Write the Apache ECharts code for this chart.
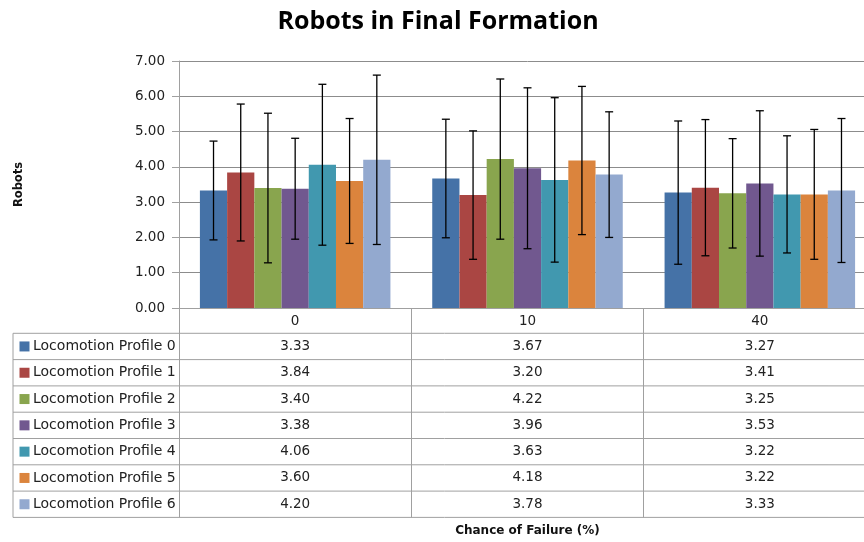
<!DOCTYPE html>
<html>
<head>
<meta charset="utf-8">
<script src="https://cdn.jsdelivr.net/npm/echarts@6/dist/echarts.min.js"></script>
<style>html,body{margin:0;padding:0;background:#fff;overflow:hidden}#c{width:876px;height:542px}</style>
</head>
<body>
<div id="c"></div>
<script>
var categories = ['0', '10', '40'];
var profiles = ['Locomotion Profile 0','Locomotion Profile 1','Locomotion Profile 2','Locomotion Profile 3','Locomotion Profile 4','Locomotion Profile 5','Locomotion Profile 6'];
var profile0 = [3.33, 3.67, 3.27];
var profile1 = [3.84, 3.20, 3.41];
var profile2 = [3.40, 4.22, 3.25];
var profile3 = [3.38, 3.96, 3.53];
var profile4 = [4.06, 3.63, 3.22];
var profile5 = [3.60, 4.18, 3.22];
var profile6 = [4.20, 3.78, 3.33];
var err0 = [1.40, 1.68, 2.03];
var err1 = [1.94, 1.82, 1.93];
var err2 = [2.12, 2.27, 1.55];
var err3 = [1.43, 2.28, 2.06];
var err4 = [2.28, 2.33, 1.66];
var err5 = [1.77, 2.10, 1.84];
var err6 = [2.40, 1.78, 2.04];
var yTicks = ['0.00','1.00','2.00','3.00','4.00','5.00','6.00','7.00'];

var values = [profile0, profile1, profile2, profile3, profile4, profile5, profile6];
var errors = [err0, err1, err2, err3, err4, err5, err6];
var colors = ['#4572A7','#AA4643','#89A54E','#71588F','#4198AF','#DB843D','#93A9CF'];

var W = 876;
var G = {left: 179, top: 61, right: 0, bottom: 234};
var catGap = 0.18;
var tableLeft = 13, headerBottom = 333.3, rowH = 26.3;
var lineColor = '#a0a0a0';
var fontMain = '"DejaVu Sans", Verdana, sans-serif';

var chart = echarts.init(document.getElementById('c'), null, {renderer: 'canvas'});

var series = values.map(function (v, i) {
  return {
    name: profiles[i], type: 'bar', data: v,
    barGap: '0%', barCategoryGap: (catGap * 100) + '%',
    itemStyle: {color: colors[i]},
    z: 2
  };
});

var errData = [];
values.forEach(function (v, i) {
  v.forEach(function (m, c) { errData.push([c, m, errors[i][c], i]); });
});
var nS = values.length;
series.push({
  type: 'custom',
  name: 'error',
  data: errData,
  encode: {x: 0, y: 1},
  z: 5,
  renderItem: function (params, api) {
    var c = api.value(0), m = api.value(1), e = api.value(2), i = api.value(3);
    var band = api.size([1, 0])[0];
    var bw = band * (1 - catGap) / nS;
    var cx = api.coord([c, m])[0] + (i - (nS - 1) / 2) * bw;
    var top = api.coord([c, m + e])[1];
    var bot = api.coord([c, m - e])[1];
    var cap = 4;
    var st = {stroke: '#000', lineWidth: 1.3};
    return {
      type: 'group',
      children: [
        {type: 'line', shape: {x1: cx, y1: top, x2: cx, y2: bot}, style: st},
        {type: 'line', shape: {x1: cx - cap, y1: top, x2: cx + cap, y2: top}, style: st},
        {type: 'line', shape: {x1: cx - cap, y1: bot, x2: cx + cap, y2: bot}, style: st}
      ]
    };
  }
});

// data table graphics
var graphics = [];
var right = W - G.right;
var catW = (right - G.left) / categories.length;
for (var k = 0; k <= profiles.length; k++) {
  var y = headerBottom + k * rowH;
  graphics.push({type: 'line', shape: {x1: tableLeft, y1: y, x2: right, y2: y}, style: {stroke: lineColor, lineWidth: 1}, silent: true});
}
graphics.push({type: 'line', shape: {x1: tableLeft, y1: headerBottom, x2: tableLeft, y2: headerBottom + profiles.length * rowH}, style: {stroke: lineColor, lineWidth: 1}});
profiles.forEach(function (p, i) {
  var yc = headerBottom + (i + 0.5) * rowH;
  graphics.push({type: 'rect', shape: {x: 19.5, y: yc - 5, width: 10, height: 10}, style: {fill: colors[i]}});
  graphics.push({type: 'text', x: 33, y: yc, style: {text: p, font: '14px ' + fontMain, fill: '#222', verticalAlign: 'middle', align: 'left'}});
  categories.forEach(function (c, j) {
    graphics.push({type: 'text', x: G.left + (j + 0.5) * catW, y: yc, style: {text: values[i][j].toFixed(2), font: '13.5px ' + fontMain, fill: '#222', verticalAlign: 'middle', align: 'center'}});
  });
});

chart.setOption({
  animation: false,
  title: {
    text: 'Robots in Final Formation', left: 'center', top: 4,
    textStyle: {fontFamily: 'Open Sans', fontWeight: 'bold', fontSize: 25, color: '#000'}
  },
  grid: {left: G.left, top: G.top, right: G.right, bottom: G.bottom, containLabel: false},
  xAxis: {
    type: 'category', data: categories,
    name: 'Chance of Failure (%)', nameLocation: 'middle', nameGap: 217,
    nameTextStyle: {fontFamily: fontMain, fontWeight: 'bold', fontSize: 12, color: '#111'},
    axisLine: {lineStyle: {color: lineColor, width: 1}},
    axisTick: {show: true, length: headerBottom + profiles.length * rowH - (542 - G.bottom), lineStyle: {color: lineColor, width: 1}},
    axisLabel: {margin: 6, fontFamily: fontMain, fontSize: 13.5, color: '#222'}
  },
  yAxis: {
    type: 'value', min: 0, max: 7, interval: 1,
    name: 'Robots', nameLocation: 'middle', nameGap: 154, nameRotate: 90,
    nameTextStyle: {fontFamily: fontMain, fontWeight: 'bold', fontSize: 11.5, color: '#111'},
    axisLine: {show: true, lineStyle: {color: lineColor, width: 1}},
    axisTick: {show: true, length: 7, lineStyle: {color: lineColor}},
    axisLabel: {margin: 14, fontFamily: fontMain, fontSize: 13.5, color: '#222',
      formatter: function (v) { return yTicks[Math.round(v)]; }},
    splitLine: {lineStyle: {color: '#8c8c8c', width: 1}}
  },
  series: series,
  graphic: graphics
});
</script>
</body>
</html>
